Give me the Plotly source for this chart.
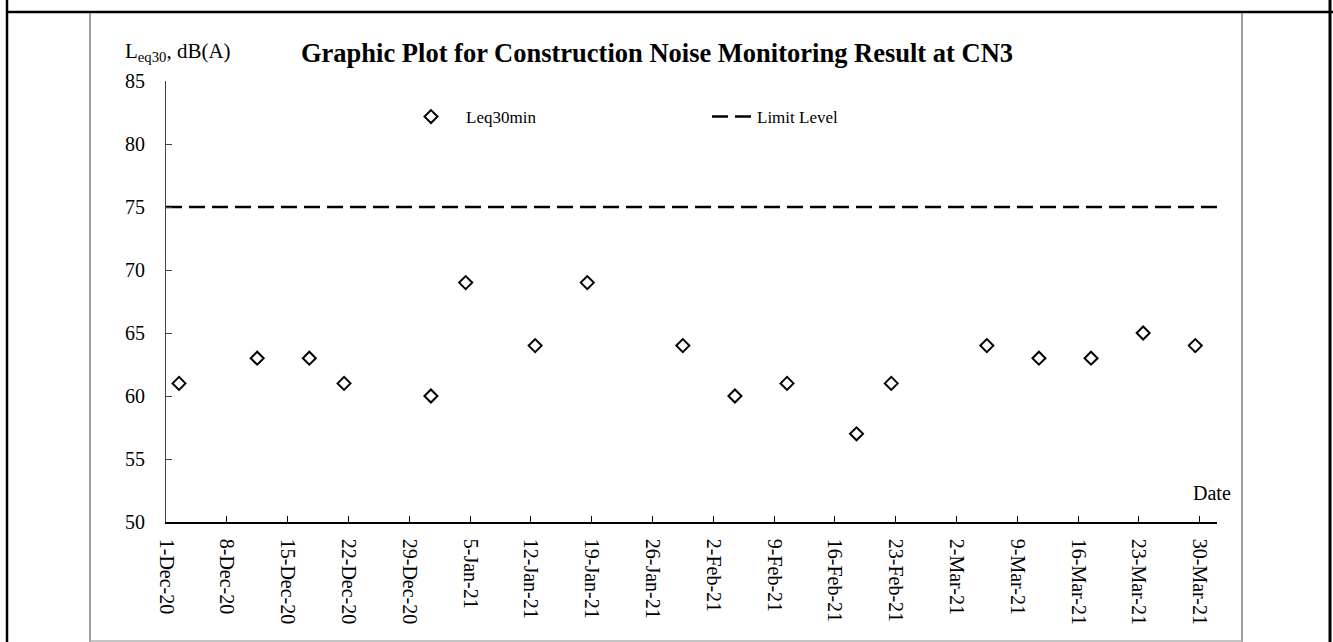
import plotly.graph_objects as go

# Monitoring results at CN3 (Leq30min, dB(A))
dates = [
    "2020-12-02 12:00", "2020-12-11 12:00", "2020-12-17 12:00", "2020-12-21 12:00",
    "2020-12-31 12:00", "2021-01-04 12:00", "2021-01-12 12:00", "2021-01-18 12:00",
    "2021-01-29 12:00", "2021-02-04 12:00", "2021-02-10 12:00", "2021-02-18 12:00",
    "2021-02-22 12:00", "2021-03-05 12:00", "2021-03-11 12:00", "2021-03-17 12:00",
    "2021-03-23 12:00", "2021-03-29 12:00",
]
leq30 = [61, 63, 63, 61, 60, 69, 64, 69, 64, 60, 61, 57, 61, 64, 63, 63, 65, 64]

# Limit level across the whole period
limit_dates = ["2020-12-01", "2021-04-01"]
limit_level = [75, 75]

x_range = ["2020-12-01", "2021-04-01"]
y_range = [50, 85]

FONT = "Liberation Serif"
W, H = 1333, 642
L, R, T, B = 166, 116, 81, 120
PW, PH = W - L - R, H - T - B


def px(x):
    return (x - L) / PW


def py(y):
    return (H - B - y) / PH


fig = go.Figure()

fig.add_trace(go.Scatter(
    x=dates, y=leq30, mode="markers", name="Leq30min",
    marker=dict(symbol="diamond-open", size=10, color="black",
                line=dict(width=2, color="black")),
    legend="legend",
))

fig.add_trace(go.Scatter(
    x=limit_dates, y=limit_level, mode="lines", name="Limit Level",
    line=dict(color="black", width=2.5, dash="16px,7px"),
    legend="legend2",
))

# page frame lines around the chart
frame = [
    # outer black rules
    dict(x0=px(7), x1=px(7), y0=py(0), y1=py(642), color="black", w=2.5),
    dict(x0=px(7), x1=px(1333), y0=py(12), y1=py(12), color="black", w=2.5),
    dict(x0=px(1330), x1=px(1330), y0=py(0), y1=py(642), color="black", w=3),
    # inner grey rules
    dict(x0=px(90), x1=px(90), y0=py(13), y1=py(642), color="#7f7f7f", w=1.5),
    dict(x0=px(1242), x1=px(1242), y0=py(13), y1=py(642), color="#7f7f7f", w=1.5),
    dict(x0=px(90), x1=px(1242), y0=py(641), y1=py(641), color="#b0b0b0", w=1.5),
]
for f in frame:
    fig.add_shape(type="line", xref="paper", yref="paper",
                  x0=f["x0"], x1=f["x1"], y0=f["y0"], y1=f["y1"],
                  line=dict(color=f["color"], width=f["w"]))

fig.add_annotation(
    text="<b>Graphic Plot for Construction Noise Monitoring Result at CN3</b>",
    xref="paper", yref="paper", x=px(657), y=py(53),
    xanchor="center", yanchor="middle", showarrow=False,
    font=dict(family=FONT, size=26.5, color="black"),
)
fig.add_annotation(
    text="L<sub>eq30</sub>, dB(A)",
    xref="paper", yref="paper", x=px(123), y=py(52),
    xanchor="left", yanchor="middle", showarrow=False,
    font=dict(family=FONT, size=21, color="black"),
)
fig.add_annotation(
    text="Date",
    xref="paper", yref="paper", x=px(1233), y=py(493),
    xanchor="right", yanchor="middle", showarrow=False,
    font=dict(family=FONT, size=20, color="black"),
)

fig.update_layout(
    width=W, height=H,
    margin=dict(l=L, r=R, t=T, b=B, pad=0),
    paper_bgcolor="white", plot_bgcolor="white",
    font=dict(family=FONT, size=20, color="black"),
    showlegend=True,
    legend=dict(x=px(396), y=py(117), xanchor="left", yanchor="middle",
                itemwidth=60,
                bgcolor="rgba(0,0,0,0)", borderwidth=0,
                font=dict(family=FONT, size=17, color="black")),
    legend2=dict(x=px(707), y=py(117), xanchor="left", yanchor="middle",
                 itemwidth=40,
                 bgcolor="rgba(0,0,0,0)", borderwidth=0,
                 font=dict(family=FONT, size=17, color="black")),
    xaxis=dict(
        type="date", range=x_range,
        tick0="2020-12-01", dtick=7 * 86400000,
        tickformat="%-d-%b-%y", tickangle=90,
        ticks="inside", ticklen=6, tickcolor="black", tickwidth=1,
        showline=True, linecolor="black", linewidth=1.5,
        showgrid=False, zeroline=False,
        ticklabelstandoff=11,
        tickfont=dict(family=FONT, size=20, color="black"),
    ),
    yaxis=dict(
        range=y_range, tick0=50, dtick=5,
        ticks="inside", ticklen=6, tickcolor="#404040", tickwidth=1,
        showline=True, linecolor="#404040", linewidth=1,
        showgrid=False, zeroline=False,
        ticklabelstandoff=16,
        tickfont=dict(family=FONT, size=20, color="black"),
    ),
)

fig.write_html("out.html")
